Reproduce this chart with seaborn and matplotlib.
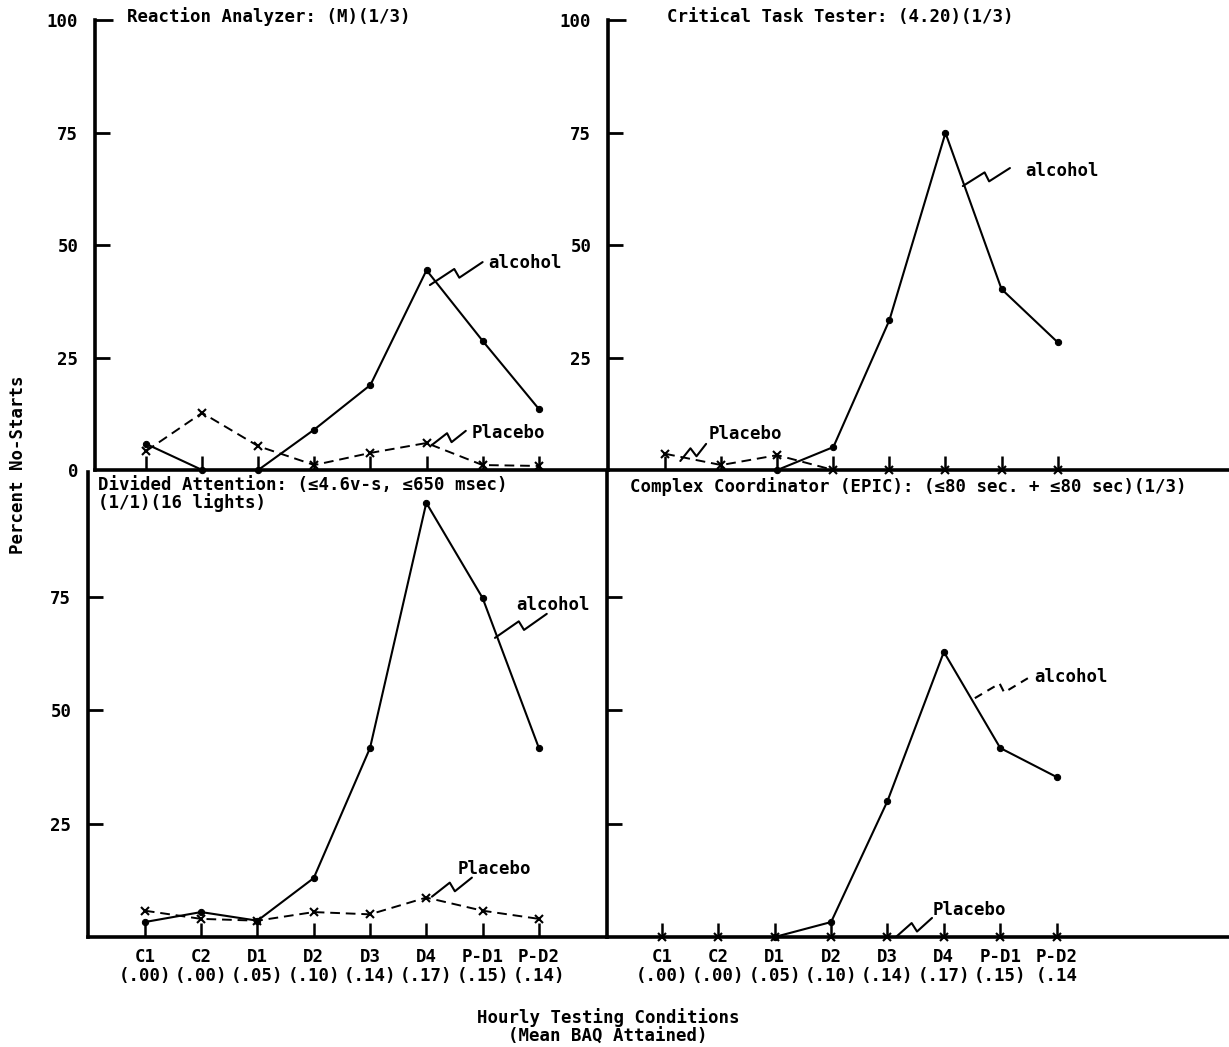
import numpy as np
import pandas as pd
import matplotlib
matplotlib.use("Agg")
import matplotlib.pyplot as plt
import seaborn as sns

# ---------------- data ----------------
categories = ["C1", "C2", "D1", "D2", "D3", "D4", "P-D1", "P-D2"]
baq_left = ["(.00)", "(.00)", "(.05)", "(.10)", "(.14)", "(.17)", "(.15)", "(.14)"]
baq_right = ["(.00)", "(.00)", "(.05)", "(.10)", "(.14)", "(.17)", "(.15)", "(.14"]

ra_alcohol = [5.8, 0.0, 0.0, 9.0, 18.9, 44.4, 28.7, 13.6]
ra_placebo = [4.2, 12.7, 5.3, 1.1, 3.8, 6.0, 1.1, 0.9]

ctt_alcohol = [np.nan, np.nan, 0.0, 5.1, 33.3, 74.9, 40.2, 28.4]
ctt_placebo = [3.6, 1.1, 3.3, 0.0, 0.0, 0.0, 0.0, 0.0]

da_alcohol = [3.3, 5.5, 3.6, 13.0, 41.7, 95.8, 74.8, 41.7]
da_placebo = [5.8, 4.0, 3.6, 5.5, 5.0, 8.7, 5.8, 4.0]

cc_alcohol = [np.nan, np.nan, 0.0, 3.3, 30.0, 62.9, 41.7, 35.3]
cc_placebo = [0.0, 0.0, 0.0, 0.0, 0.0, 0.0, 0.0, 0.0]

titles = [
    "Reaction Analyzer: (M)(1/3)",
    "Critical Task Tester: (4.20)(1/3)",
    "Divided Attention: (\u22644.6v-s, \u2264650 msec)\n(1/1)(16 lights)",
    "Complex Coordinator (EPIC): (\u226480 sec. + \u226480 sec)(1/3)",
]

# ---------------- style ----------------
sns.set_theme(style="white")
plt.rcParams["font.family"] = ["DejaVu Sans Mono", "DejaVu Sans"]
plt.rcParams["font.weight"] = "bold"
plt.rcParams["text.color"] = "black"
plt.rcParams["xtick.color"] = "black"
plt.rcParams["ytick.color"] = "black"
plt.rcParams["axes.labelcolor"] = "black"
FS = 12.5

W, H = 1229, 1047
fig = plt.figure(figsize=(W / 100, H / 100), dpi=100)
fig.patch.set_facecolor("white")


def px_axes(x0, x1, ytop, ybot):
    return fig.add_axes([x0 / W, 1 - ybot / H, (x1 - x0) / W, (ybot - ytop) / H])


ax_tl = px_axes(95, 608, 20, 470)
ax_tr = px_axes(608, 1228, 20, 470)
ax_bl = px_axes(88, 607, 472, 937)
ax_br = px_axes(607, 1228, 472, 937)

xs = np.arange(len(categories))

panels = [
    (ax_tl, ra_alcohol, ra_placebo, (-0.91, 8.235), (0, 100.0)),
    (ax_tr, ctt_alcohol, ctt_placebo, (-1.02, 10.04), (0, 100.0)),
    (ax_bl, da_alcohol, da_placebo, (-1.01, 8.21), (0, 102.6)),
    (ax_br, cc_alcohol, cc_placebo, (-0.975, 10.04), (0, 102.6)),
]

for ax, alc, plc, xl, yl in panels:
    df = pd.DataFrame({"x": xs, "alcohol": alc, "placebo": plc})
    sns.lineplot(data=df, x="x", y="placebo", ax=ax, color="black", lw=1.4,
                 linestyle=(0, (5, 3)), marker="x", markersize=6, mew=1.5,
                 mec="black", mfc="black",
                 estimator=None, sort=False, clip_on=False)
    sns.lineplot(data=df, x="x", y="alcohol", ax=ax, color="black", lw=1.5,
                 marker="o", markersize=4.5, mec="black", mfc="black",
                 estimator=None, sort=False, clip_on=False)
    ax.set_xlim(*xl)
    ax.set_ylim(*yl)
    ax.set_xlabel("")
    ax.set_ylabel("")
    ax.set_facecolor("none")
    for s in ["top", "right"]:
        ax.spines[s].set_visible(False)
    for s in ["left", "bottom"]:
        ax.spines[s].set_linewidth(2.6)
        ax.spines[s].set_color("black")
        ax.spines[s].set_zorder(5)
    ax.set_xticks(xs)
    ax.tick_params(axis="x", bottom=True, direction="in", length=10, width=1.8,
                   color="black", labelcolor="black", labelsize=FS, pad=8)
    ax.tick_params(axis="y", left=True, direction="in", length=11, width=2.0,
                   color="black", labelcolor="black", labelsize=FS, pad=12)

# x tick labels
ax_tl.set_xticklabels([])
ax_tr.set_xticklabels([])
ax_bl.set_xticklabels([f"{c}\n{b}" for c, b in zip(categories, baq_left)],
                      fontsize=FS, fontweight="bold", linespacing=1.05)
ax_br.set_xticklabels([f"{c}\n{b}" for c, b in zip(categories, baq_right)],
                      fontsize=FS, fontweight="bold", linespacing=1.05)

# y ticks
ax_tl.set_yticks([0, 25, 50, 75, 100])
ax_tl.set_yticklabels(["0", "25", "50", "75", "100"], fontsize=FS, fontweight="bold")
ax_tr.set_yticks([25, 50, 75, 100])
ax_tr.set_yticklabels(["25", "50", "75", "100"], fontsize=FS, fontweight="bold")
ax_bl.set_yticks([25, 50, 75])
ax_bl.set_yticklabels(["25", "50", "75"], fontsize=FS, fontweight="bold")
ax_br.set_yticks([25, 50, 75])
ax_br.set_yticklabels([])
# top "100" corner ticks drawn longer (bracket look)
for ax in (ax_tl, ax_tr):
    ax.yaxis.get_major_ticks()[-1].tick1line.set_markersize(13)
ax_tl.yaxis.get_major_ticks()[0].tick1line.set_visible(False)

# titles
fig.text(127 / W, 1 - 17 / H, titles[0], fontsize=FS, fontweight="bold", va="center", ha="left")
fig.text(667 / W, 1 - 17 / H, titles[1], fontsize=FS, fontweight="bold", va="center", ha="left")
fig.text(98 / W, 1 - 494 / H, titles[2], fontsize=FS, fontweight="bold", va="center", ha="left",
         linespacing=1.0)
fig.text(630 / W, 1 - 487 / H, titles[3], fontsize=FS, fontweight="bold", va="center", ha="left")

# axis labels
fig.text(18 / W, 1 - 465 / H, "Percent No-Starts", rotation=90, fontsize=FS,
         fontweight="bold", va="center", ha="center")
fig.text(608 / W, 1 - 1027 / H, "Hourly Testing Conditions\n(Mean BAQ Attained)",
         fontsize=FS, fontweight="bold", va="center", ha="center", linespacing=1.0)

fig.canvas.draw()


def zigzag(ax, p0, p1, h=5.0, dashed=False):
    """Lightning-bolt leader line between two data points (shape in pixels)."""
    a = ax.transData.transform(p0)
    b = ax.transData.transform(p1)
    d = b - a
    L = np.hypot(*d)
    u = d / L
    n = np.array([-u[1], u[0]])
    pts = np.array([a, a + 0.5 * d + n * h, a + 0.52 * d - n * h, b])
    dp = ax.transData.inverted().transform(pts)
    ls = (0, (4, 3)) if dashed else "-"
    ax.plot(dp[:, 0], dp[:, 1], color="black", lw=1.5, ls=ls, clip_on=False)


def label(ax, x, y, s):
    ax.text(x, y, s, fontsize=FS, fontweight="bold", va="center", ha="left")


# top-left
zigzag(ax_tl, (5.06, 41.1), (6.0, 46.2))
label(ax_tl, 6.1, 46.0, "alcohol")
zigzag(ax_tl, (5.1, 5.6), (5.7, 8.7))
label(ax_tl, 5.81, 8.2, "Placebo")
# top-right
zigzag(ax_tr, (5.31, 63.1), (6.15, 67.1))
label(ax_tr, 6.42, 66.4, "alcohol")
zigzag(ax_tr, (0.27, 2.0), (0.73, 5.8))
label(ax_tr, 0.77, 8.0, "Placebo")
# bottom-left
zigzag(ax_bl, (6.22, 66.0), (7.14, 71.3))
label(ax_bl, 6.6, 73.3, "alcohol")
zigzag(ax_bl, (5.1, 8.9), (5.81, 13.1))
label(ax_bl, 5.56, 14.9, "Placebo")
# bottom-right
zigzag(ax_br, (5.55, 52.7), (6.49, 57.1), dashed=True)
label(ax_br, 6.61, 57.3, "alcohol")
zigzag(ax_br, (4.15, 0.0), (4.79, 4.2))
label(ax_br, 4.8, 6.0, "Placebo")

fig.savefig("out.png", dpi=100, facecolor="white")
